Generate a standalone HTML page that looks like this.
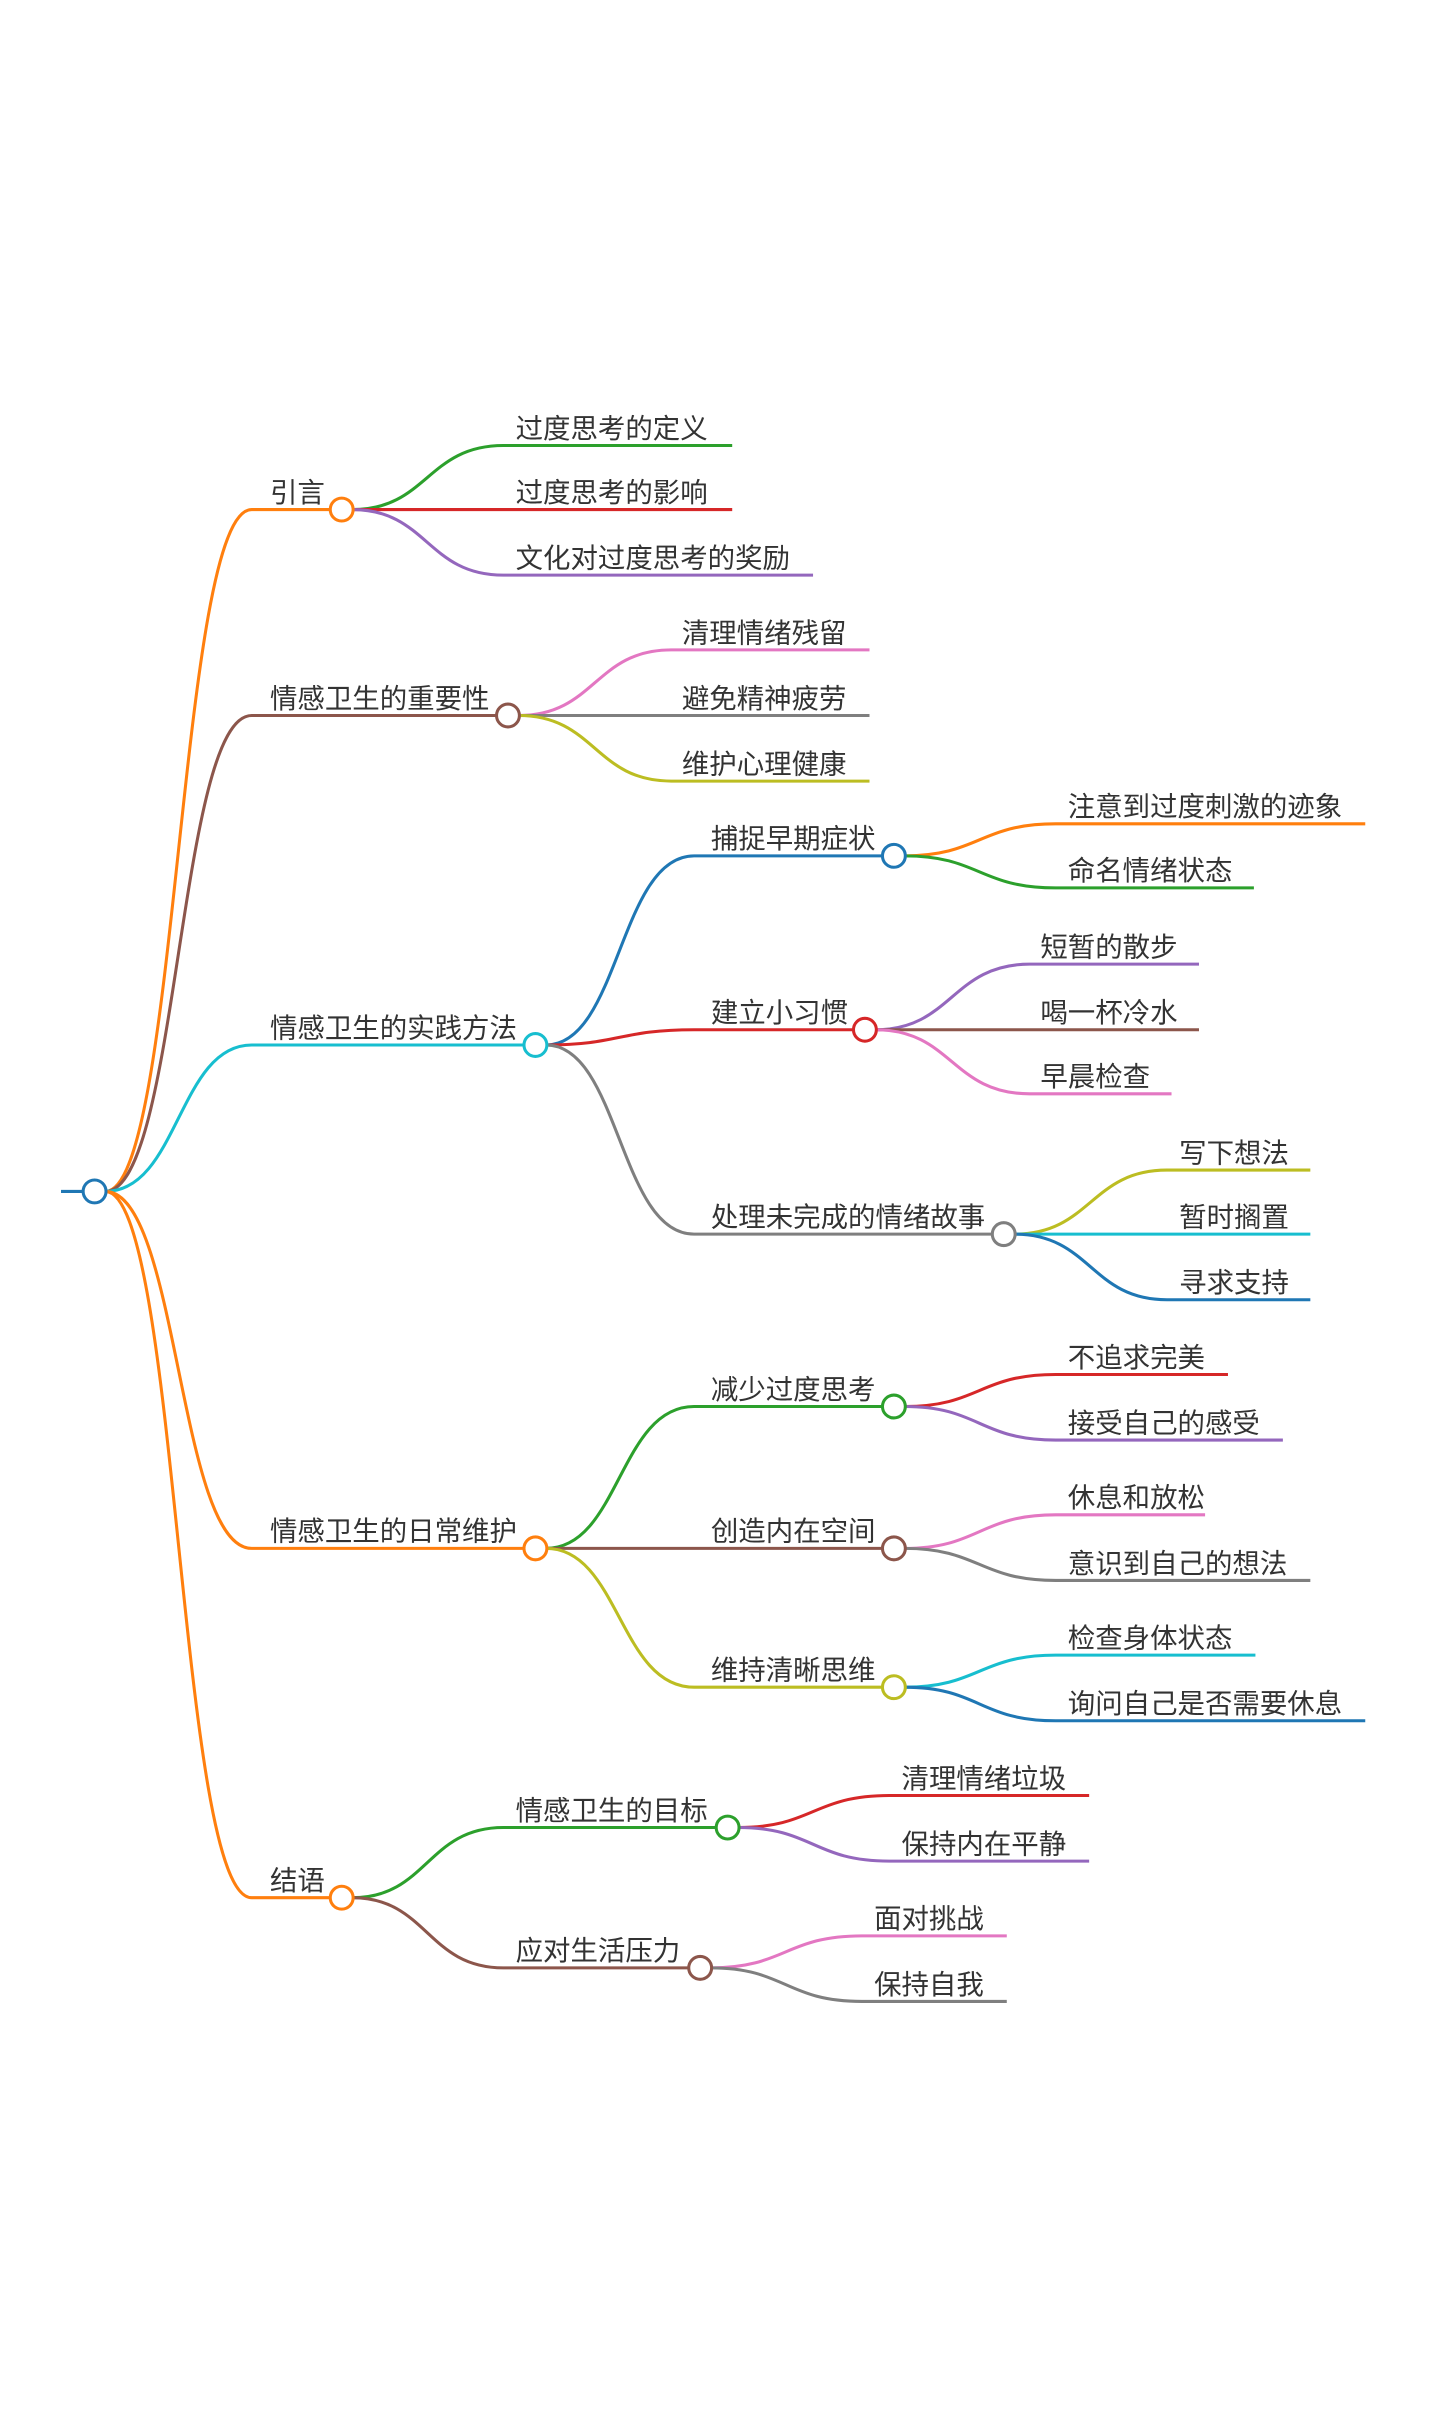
<!DOCTYPE html>
<html><head><meta charset="utf-8"><style>
html,body{margin:0;padding:0;background:#fff;}
svg{display:block;}
text{font-family:"Liberation Sans","Noto Sans CJK SC",sans-serif;font-size:18px;fill:#333;}
path{fill:none;stroke-width:2;}
circle{fill:#fff;stroke-width:2;}
</style></head><body>
<svg width="1440" height="2421" viewBox="0 0 944 1587" xmlns="http://www.w3.org/2000/svg">
<path d="M40 781 L55 781" stroke="#1f77b4"/>
<path d="M69 781 C117 781 117 334 165 334 L224 334" stroke="#ff7f0e"/>
<path d="M69 781 C117 781 117 469 165 469 L333 469" stroke="#8c564b"/>
<path d="M69 781 C117 781 117 685 165 685 L351 685" stroke="#17becf"/>
<path d="M69 781 C117 781 117 1015 165 1015 L351 1015" stroke="#ff7f0e"/>
<path d="M69 781 C117 781 117 1244 165 1244 L224 1244" stroke="#ff7f0e"/>
<text x="177" y="329">引言</text>
<text x="177" y="464">情感卫生的重要性</text>
<text x="177" y="680">情感卫生的实践方法</text>
<text x="177" y="1010">情感卫生的日常维护</text>
<text x="177" y="1239">结语</text>

<path d="M231 334 C280 334 280 292 330 292 L480 292" stroke="#2ca02c"/>
<path d="M231 334 C280 334 280 334 330 334 L480 334" stroke="#d62728"/>
<path d="M231 334 C280 334 280 377 330 377 L533 377" stroke="#9467bd"/>
<text x="338" y="287">过度思考的定义</text>
<text x="338" y="329">过度思考的影响</text>
<text x="338" y="372">文化对过度思考的奖励</text>

<path d="M340 469 C390 469 390 426 440 426 L570 426" stroke="#e377c2"/>
<path d="M340 469 C390 469 390 469 440 469 L570 469" stroke="#7f7f7f"/>
<path d="M340 469 C390 469 390 512 440 512 L570 512" stroke="#bcbd22"/>
<text x="447" y="421">清理情绪残留</text>
<text x="447" y="464">避免精神疲劳</text>
<text x="447" y="507">维护心理健康</text>

<path d="M358 685 C406 685 406 561 455 561 L586 561" stroke="#1f77b4"/>
<path d="M358 685 C406 685 406 675 455 675 L567 675" stroke="#d62728"/>
<path d="M358 685 C406 685 406 809 455 809 L658 809" stroke="#7f7f7f"/>
<text x="466" y="556">捕捉早期症状</text>
<text x="466" y="670">建立小习惯</text>
<text x="466" y="804">处理未完成的情绪故事</text>

<path d="M593 561 C642 561 642 540 692 540 L895 540" stroke="#ff7f0e"/>
<path d="M593 561 C642 561 642 582 692 582 L822 582" stroke="#2ca02c"/>
<text x="700" y="535">注意到过度刺激的迹象</text>
<text x="700" y="577">命名情绪状态</text>

<path d="M574 675 C624 675 624 632 675 632 L786 632" stroke="#9467bd"/>
<path d="M574 675 C624 675 624 675 675 675 L786 675" stroke="#8c564b"/>
<path d="M574 675 C624 675 624 717 675 717 L768 717" stroke="#e377c2"/>
<text x="682" y="627">短暂的散步</text>
<text x="682" y="670">喝一杯冷水</text>
<text x="682" y="712">早晨检查</text>

<path d="M665 809 C715 809 715 767 765 767 L859 767" stroke="#bcbd22"/>
<path d="M665 809 C715 809 715 809 765 809 L859 809" stroke="#17becf"/>
<path d="M665 809 C715 809 715 852 765 852 L859 852" stroke="#1f77b4"/>
<text x="773" y="762">写下想法</text>
<text x="773" y="804">暂时搁置</text>
<text x="773" y="847">寻求支持</text>

<path d="M358 1015 C406 1015 406 922 455 922 L586 922" stroke="#2ca02c"/>
<path d="M358 1015 C406 1015 406 1015 455 1015 L586 1015" stroke="#8c564b"/>
<path d="M358 1015 C406 1015 406 1106 455 1106 L586 1106" stroke="#bcbd22"/>
<text x="466" y="917">减少过度思考</text>
<text x="466" y="1010">创造内在空间</text>
<text x="466" y="1101">维持清晰思维</text>

<path d="M593 922 C642 922 642 901 692 901 L805 901" stroke="#d62728"/>
<path d="M593 922 C642 922 642 944 692 944 L841 944" stroke="#9467bd"/>
<text x="700" y="896">不追求完美</text>
<text x="700" y="939">接受自己的感受</text>

<path d="M593 1015 C642 1015 642 993 692 993 L790 993" stroke="#e377c2"/>
<path d="M593 1015 C642 1015 642 1036 692 1036 L859 1036" stroke="#7f7f7f"/>
<text x="700" y="988">休息和放松</text>
<text x="700" y="1031">意识到自己的想法</text>

<path d="M593 1106 C642 1106 642 1085 692 1085 L823 1085" stroke="#17becf"/>
<path d="M593 1106 C642 1106 642 1128 692 1128 L895 1128" stroke="#1f77b4"/>
<text x="700" y="1080">检查身体状态</text>
<text x="700" y="1123">询问自己是否需要休息</text>

<path d="M231 1244 C280 1244 280 1198 330 1198 L477 1198" stroke="#2ca02c"/>
<path d="M231 1244 C280 1244 280 1290 330 1290 L459 1290" stroke="#8c564b"/>
<text x="338" y="1193">情感卫生的目标</text>
<text x="338" y="1285">应对生活压力</text>

<path d="M484 1198 C533 1198 533 1177 583 1177 L714 1177" stroke="#d62728"/>
<path d="M484 1198 C533 1198 533 1220 583 1220 L714 1220" stroke="#9467bd"/>
<text x="591" y="1172">清理情绪垃圾</text>
<text x="591" y="1215">保持内在平静</text>

<path d="M466 1290 C515 1290 515 1269 565 1269 L660 1269" stroke="#e377c2"/>
<path d="M466 1290 C515 1290 515 1312 565 1312 L660 1312" stroke="#7f7f7f"/>
<text x="573" y="1264">面对挑战</text>
<text x="573" y="1307">保持自我</text>

<circle cx="62" cy="781" r="7.5" stroke="#1f77b4"/>
<circle cx="224" cy="334" r="7.5" stroke="#ff7f0e"/>
<circle cx="333" cy="469" r="7.5" stroke="#8c564b"/>
<circle cx="351" cy="685" r="7.5" stroke="#17becf"/>
<circle cx="351" cy="1015" r="7.5" stroke="#ff7f0e"/>
<circle cx="224" cy="1244" r="7.5" stroke="#ff7f0e"/>
<circle cx="586" cy="561" r="7.5" stroke="#1f77b4"/>
<circle cx="567" cy="675" r="7.5" stroke="#d62728"/>
<circle cx="658" cy="809" r="7.5" stroke="#7f7f7f"/>
<circle cx="586" cy="922" r="7.5" stroke="#2ca02c"/>
<circle cx="586" cy="1015" r="7.5" stroke="#8c564b"/>
<circle cx="586" cy="1106" r="7.5" stroke="#bcbd22"/>
<circle cx="477" cy="1198" r="7.5" stroke="#2ca02c"/>
<circle cx="459" cy="1290" r="7.5" stroke="#8c564b"/>
</svg>
</body></html>
